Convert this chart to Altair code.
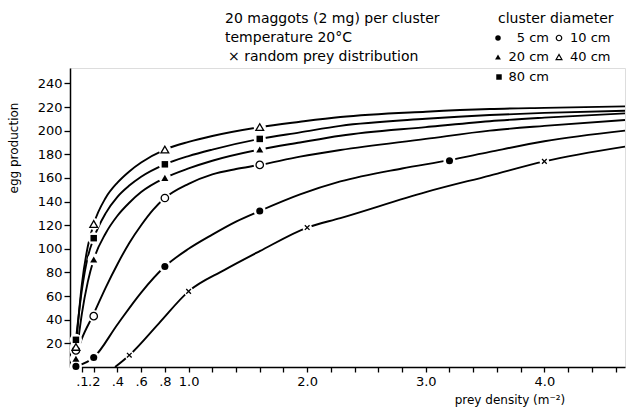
import altair as alt
import pandas as pd

# ---------------- data ----------------
# measured points (markers)
mk_5_x = [0.05, 0.2, 0.8, 1.6, 3.2]
mk_5_y = [0.5, 8, 85, 132, 174.5]
mk_10_x = [0.05, 0.2, 0.8, 1.6]
mk_10_y = [14, 43, 143, 171]
mk_20_x = [0.05, 0.2, 0.8, 1.6]
mk_20_y = [7, 91, 160, 184]
mk_40_x = [0.05, 0.2, 0.8, 1.6]
mk_40_y = [17, 121, 184, 203]
mk_80_x = [0.05, 0.2, 0.8, 1.6]
mk_80_y = [23, 109, 171.5, 193]
mk_rnd_x = [0.5, 1.0, 2.0, 4.0]
mk_rnd_y = [10, 64, 118, 174]

# fitted curves
cv_5_x = [0.05, 0.2, 0.4, 0.6, 0.8, 1.0, 1.2, 1.4, 1.6, 1.94, 2.28, 2.8, 3.2, 3.54, 4.0, 4.68]
cv_5_y = [0.5, 8, 36, 63, 85, 100, 112, 123, 132, 146, 157, 168, 175, 182, 191, 200]
cv_10_x = [0.05, 0.1, 0.2, 0.3, 0.4, 0.5, 0.6, 0.7, 0.8, 1.0, 1.2, 1.4, 1.6, 1.94, 2.28, 3.0, 3.54, 4.0, 4.68]
cv_10_y = [10, 24, 45, 67, 87, 105, 120, 133, 143, 155, 163, 167.5, 171, 178, 183.6, 193, 200, 204, 209]
cv_20_x = [0.05, 0.1, 0.15, 0.2, 0.3, 0.4, 0.5, 0.6, 0.8, 1.0, 1.2, 1.6, 1.94, 2.28, 3.0, 3.54, 4.0, 4.68]
cv_20_y = [7, 45, 72, 91, 113, 128, 139, 148, 160, 168, 174.5, 184, 190, 195.7, 203, 208, 211, 214.6]
cv_40_x = [0.05, 0.1, 0.15, 0.2, 0.3, 0.4, 0.5, 0.6, 0.8, 1.0, 1.2, 1.6, 1.94, 2.28, 3.0, 3.54, 4.0, 4.68]
cv_40_y = [17, 70, 102, 121, 143, 156, 165.5, 173, 184, 190.5, 195.5, 203, 207.5, 211.5, 216, 218.3, 219.3, 220.5]
cv_80_x = [0.05, 0.1, 0.15, 0.2, 0.3, 0.4, 0.5, 0.6, 0.8, 1.0, 1.2, 1.6, 1.94, 2.28, 3.0, 3.54, 4.0, 4.68]
cv_80_y = [23, 65, 93, 109, 130, 144, 153.5, 161, 171.5, 178.5, 184, 193, 198.5, 204, 210, 213.2, 215, 216.8]
cv_rnd_x = [0.38, 0.5, 0.75, 1.0, 1.3, 1.6, 2.0, 2.28, 3.0, 3.54, 4.0, 4.68]
cv_rnd_y = [0, 10, 37, 64, 82, 98, 118, 126, 148, 162, 174, 186.5]

# axes
y_tick_values = [20, 40, 60, 80, 100, 120, 140, 160, 180, 200, 220, 240]
x_tick_values = [0.1, 0.2, 0.4, 0.6, 0.8, 1.0, 1.2, 1.4, 1.6, 1.8, 2.0, 2.2, 2.4, 2.6,
                 2.8, 3.0, 3.2, 3.4, 3.6, 3.8, 4.0, 4.2, 4.4, 4.6]
x_label_values = [0.1, 0.2, 0.4, 0.6, 0.8, 1.0, 2.0, 3.0, 4.0]

# ---------------- tables ----------------
curves = {
    "5 cm": (cv_5_x, cv_5_y), "10 cm": (cv_10_x, cv_10_y), "20 cm": (cv_20_x, cv_20_y),
    "40 cm": (cv_40_x, cv_40_y), "80 cm": (cv_80_x, cv_80_y), "random": (cv_rnd_x, cv_rnd_y),
}
markers = {
    "5 cm": (mk_5_x, mk_5_y), "10 cm": (mk_10_x, mk_10_y), "20 cm": (mk_20_x, mk_20_y),
    "40 cm": (mk_40_x, mk_40_y), "80 cm": (mk_80_x, mk_80_y), "random": (mk_rnd_x, mk_rnd_y),
}
curve_df = pd.DataFrame([{"series": s, "x": x, "y": y}
                         for s, (xs, ys) in curves.items() for x, y in zip(xs, ys)])
marker_df = pd.DataFrame([{"series": s, "x": x, "y": y}
                          for s, (xs, ys) in markers.items() for x, y in zip(xs, ys)])

FONT = "DejaVu Sans"
XMAX = 4.68
YMAX = 253

xscale = alt.Scale(domain=[0, XMAX], nice=False, zero=False)
yscale = alt.Scale(domain=[0, YMAX], nice=False)

label_list = ",".join(str(v) for v in x_label_values)
label_expr = (f"indexof([{label_list}], datum.value) < 0 ? '' : "
              "(datum.value < 1 ? replace(format(datum.value, '.1f'), '0.', '.') "
              ": format(datum.value, '.1f'))")

x_axis = alt.Axis(values=x_tick_values, labelExpr=label_expr, grid=False,
                  domainColor="black", domainWidth=1.5, tickColor="black",
                  tickWidth=1.3, tickSize=5, labelFont=FONT, labelFontSize=13,
                  labelColor="black", labelOverlap=False, labelPadding=3,
                  labelFlush=False, labelBound=False)
y_axis = alt.Axis(values=y_tick_values, grid=False, domainColor="black",
                  domainWidth=1.5, tickColor="black", tickWidth=1.3, tickSize=6,
                  labelFont=FONT, labelFontSize=13, labelColor="black",
                  labelPadding=2, labelOverlap=False, labelBound=False, labelFlush=False)

def X():
    return alt.X("x:Q", scale=xscale, title=None, axis=x_axis)

def Y():
    return alt.Y("y:Q", scale=yscale, title=None, axis=y_axis)

base_curve = alt.Chart(curve_df)
base_mk = alt.Chart(marker_df)

lines = base_curve.mark_line(color="black", strokeWidth=1.9, interpolate="monotone").encode(
    x=X(), y=Y(), detail="series:N")

halo = base_mk.transform_filter("datum.series != 'random'").mark_point(
    shape="circle", filled=True, color="white", size=150, opacity=1).encode(x=X(), y=Y())
halo_r = base_mk.transform_filter("datum.series == 'random'").mark_point(
    shape="circle", filled=True, color="white", size=90, opacity=1).encode(x=X(), y=Y())

def pts(series, shape, filled, size):
    if filled:
        m = base_mk.transform_filter(f"datum.series == '{series}'").mark_point(
            shape=shape, filled=True, color="black", size=size, opacity=1)
    else:
        m = base_mk.transform_filter(f"datum.series == '{series}'").mark_point(
            shape=shape, filled=True, fill="white", stroke="black", strokeWidth=1.3,
            size=size, opacity=1)
    return m.encode(x=X(), y=Y())

CROSS = "M-1,-1L1,1M-1,1L1,-1"
p5 = pts("5 cm", "circle", True, 50)
p10 = pts("10 cm", "circle", False, 55)
p20 = pts("20 cm", "triangle-up", True, 50)
p40 = pts("40 cm", "triangle-up", False, 60)
p80 = pts("80 cm", "square", True, 42)
prnd = base_mk.transform_filter("datum.series == 'random'").mark_point(
    shape=CROSS, filled=False, color="black", strokeWidth=1.3, size=22, opacity=1).encode(
    x=X(), y=Y())

# ---------------- annotation text ----------------
def txt(s, x, y, align="left", size=14, angle=None):
    kw = dict(text=s, align=align, baseline="middle", font=FONT, fontSize=size, color="black")
    if angle is not None:
        kw["angle"] = angle
    return alt.Chart().mark_text(**kw).encode(x=alt.value(x), y=alt.value(y))

def sym(shape, x, y, filled, size):
    if filled:
        m = alt.Chart().mark_point(shape=shape, filled=True, color="black", size=size, opacity=1)
    else:
        m = alt.Chart().mark_point(shape=shape, filled=True, fill="white", stroke="black",
                                   strokeWidth=1.2, size=size, opacity=1)
    return m.encode(x=alt.value(x), y=alt.value(y))

notes = [
    txt("20 maggots (2 mg) per cluster", 155, -49),
    txt("temperature 20°C", 155, -30),
    txt("×  random prey distribution", 158, -11),
    txt("cluster diameter", 428, -49),
    sym("circle", 428, -30, True, 30),
    txt("5 cm", 479, -30, align="right", size=13),
    sym("circle", 489, -30, False, 30),
    txt("10 cm", 500, -30, size=13),
    sym("triangle-up", 428, -11, True, 34),
    txt("20 cm", 479, -11, align="right", size=13),
    sym("triangle-up", 489, -11, False, 34),
    txt("40 cm", 500, -11, size=13),
    sym("square", 429, 9, True, 30),
    txt("80 cm", 479, 9, align="right", size=13),
    txt("egg production", -56, 80, align="center", size=12, angle=270),
    txt("prey density (m⁻²)", 440, 332, align="center", size=12),
]

chart = alt.layer(lines, halo, halo_r, p5, p10, p20, p40, p80, prnd, *notes).properties(
    width=555, height=299,
    padding={"left": 70, "top": 68, "right": 3, "bottom": 47},
    autosize=alt.AutoSizeParams(type="none"),
).configure_view(stroke=None).configure_axis(labelOverlap=False).configure(background="white")

chart.save("out.html", embed_options={"renderer": "svg", "actions": False})
